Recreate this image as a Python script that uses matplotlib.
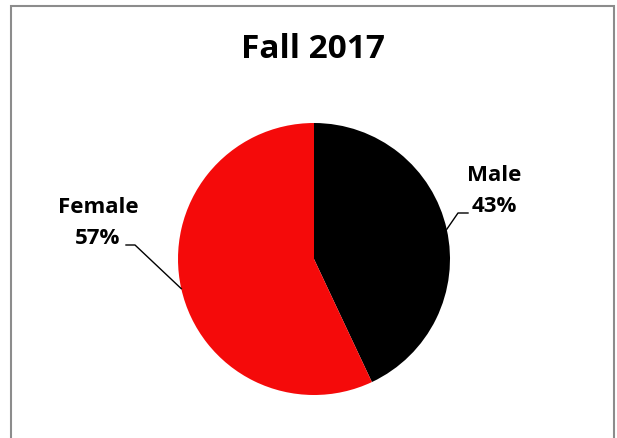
import numpy as np
import matplotlib
matplotlib.use("Agg")
import matplotlib.pyplot as plt
from matplotlib.patches import Rectangle

# ── Datos ──────────────────────────────────────────────────────────────────
labels = ["Male", "Female"]
shares = [43, 57]
colors = ["#000000", "#F50A0A"]
title = "Fall 2017"

W, H, DPI = 617, 439, 100
CX, CY, R = 314, 260, 136          # centro y radio del pastel (px)

fig = plt.figure(figsize=(W / DPI, H / DPI), dpi=DPI)
fig.patch.set_facecolor("white")

# marco gris del gráfico (sin borde inferior visible)
fig.add_artist(Rectangle((11 / W, -0.05), (614 - 11) / W, 1.05 - 7 / H,
                         transform=fig.transFigure, fill=False,
                         edgecolor="#8c8c8c", linewidth=1.5))

ax = fig.add_axes([0, 0, 1, 1])
ax.axis("off")

wedges, _ = ax.pie(shares, colors=colors, startangle=90, counterclock=False,
                   radius=1, wedgeprops=dict(linewidth=0))
ax.set_xlim(-CX / R, (W - CX) / R)
ax.set_ylim(-(H - CY) / R, CY / R)


def px(x, y):
    return (x - CX) / R, (CY - y) / R


font = dict(family=["Open Sans", "DejaVu Sans"], weight="bold")

# etiquetas con líneas guía
label_pos = {"Male": (494, 191), "Female": (98, 223)}
elbows = {"Male": [(468, 214), (458, 214)], "Female": [(126, 246), (135, 246)]}
for w, name, pct in zip(wedges, labels, shares):
    ang = np.deg2rad((w.theta1 + w.theta2) / 2)
    edge = (np.cos(ang), np.sin(ang))
    pts = [px(*p) for p in elbows[name]] + [edge]
    xs, ys = zip(*pts)
    ax.plot(xs, ys, color="black", linewidth=1)
    tx, ty = px(*label_pos[name])
    ax.text(tx, ty, f"{name}\n{pct}%", ha="center", va="center",
            fontsize=16, linespacing=1.6, **font)

fig.text(313 / W, 1 - 50 / H, title, ha="center", va="center",
         fontsize=24, **font)

plt.savefig("out.png", dpi=DPI)
plt.close("all")
